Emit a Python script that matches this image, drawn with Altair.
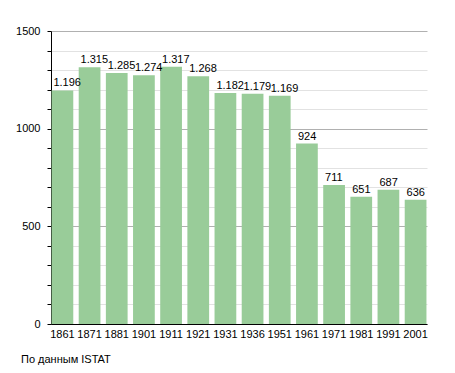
import altair as alt
import pandas as pd

years = ["1861", "1871", "1881", "1901", "1911", "1921", "1931", "1936",
         "1951", "1961", "1971", "1981", "1991", "2001"]
population = [1196, 1315, 1285, 1274, 1317, 1268, 1182, 1179, 1169, 924,
              711, 651, 687, 636]
y_ticks = list(range(0, 1501, 100))

df = pd.DataFrame({
    "year": years,
    "pop": population,
    "label": [f"{v:,}".replace(",", ".") for v in population],
})

FONT = "Liberation Sans"
W, H = 376, 293
MAJOR = "indexof([0, 500, 1000, 1500], round(datum.value)) >= 0"

x = alt.X("year:N", sort=years, title=None,
          scale=alt.Scale(paddingInner=0.2, paddingOuter=0.02),
          axis=alt.Axis(labelAngle=0, ticks=False, domainColor="black",
                        labelFont=FONT, labelFontSize=11, labelColor="black",
                        labelPadding=4, labelOverlap=False))
y = alt.Y("pop:Q", title=None,
          scale=alt.Scale(domain=[0, 1500], nice=False),
          axis=alt.Axis(values=y_ticks,
                        labelExpr=f"{MAJOR} ? format(datum.value, 'd') : ''",
                        labelOverlap=False,
                        labelBound=False,
                        grid=True,
                        gridColor={"condition": {"test": MAJOR, "value": "#b0b0b0"},
                                   "value": "#e2e2e2"},
                        tickColor="black", tickSize=4, domainColor="black",
                        labelFont=FONT, labelFontSize=11, labelColor="black",
                        labelPadding=7))

base = alt.Chart(df)
bars = base.mark_bar(color="#99cc99").encode(x=x, y=y)
labels = base.mark_text(align="left", baseline="bottom", dx=-9, dy=-2,
                        font=FONT, fontSize=11, color="black").encode(
    x=x, y=y, text="label:N")

chart = (bars + labels).properties(
    width=W, height=H,
    autosize=alt.AutoSizeParams(type="none"),
    padding={"left": 43, "top": 23, "right": 20, "bottom": 41},
    title=alt.TitleParams("По данным  ISTAT", orient="bottom", anchor="start",
                          font=FONT, fontSize=11, fontWeight="normal",
                          color="black", dx=-30, offset=15, frame="group"),
).configure_view(stroke=None).configure_axis(domainWidth=1)

chart.save("out.html", embed_options={"renderer": "svg", "actions": False})
